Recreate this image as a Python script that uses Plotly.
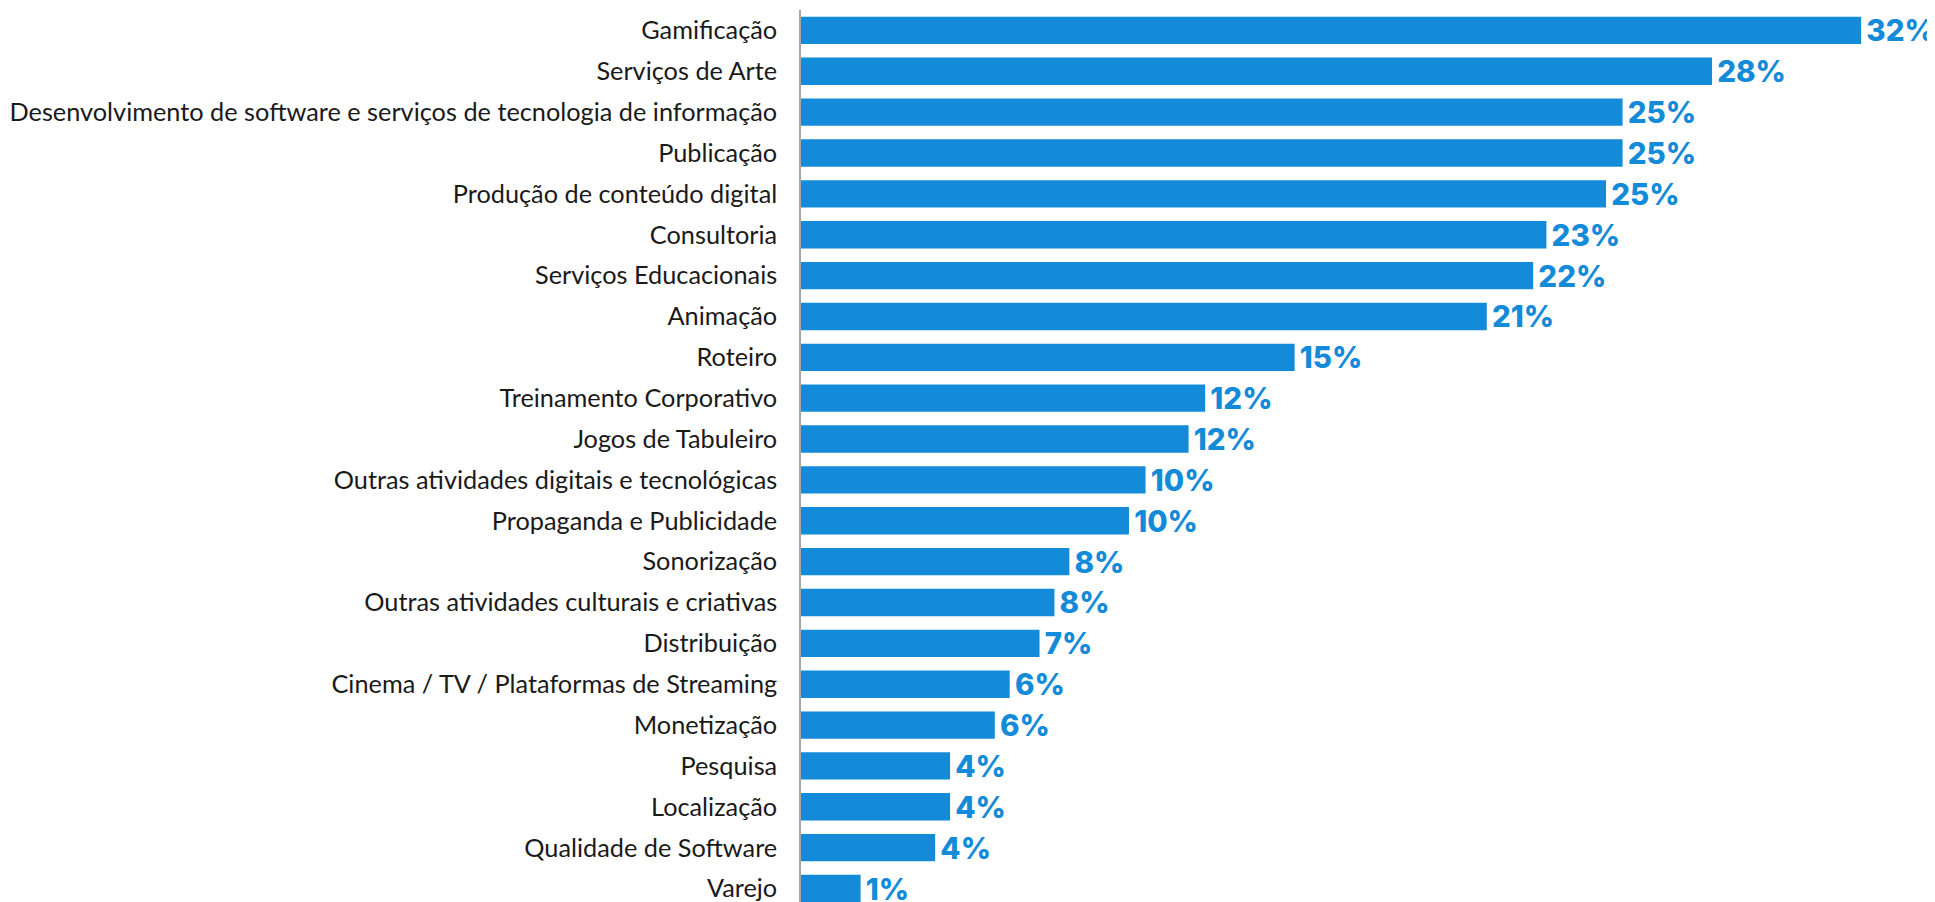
import plotly.graph_objects as go

categories = [
    "Gamificação",
    "Serviços de Arte",
    "Desenvolvimento de software e serviços de tecnologia de informação",
    "Publicação",
    "Produção de conteúdo digital",
    "Consultoria",
    "Serviços Educacionais",
    "Animação",
    "Roteiro",
    "Treinamento Corporativo",
    "Jogos de Tabuleiro",
    "Outras atividades digitais e tecnológicas",
    "Propaganda e Publicidade",
    "Sonorização",
    "Outras atividades culturais e criativas",
    "Distribuição",
    "Cinema / TV / Plataformas de Streaming",
    "Monetização",
    "Pesquisa",
    "Localização",
    "Qualidade de Software",
    "Varejo",
]
values = [32.0, 27.5, 24.8, 24.8, 24.3, 22.5, 22.1, 20.7, 14.9, 12.2, 11.7,
          10.4, 9.9, 8.1, 7.65, 7.2, 6.3, 5.85, 4.5, 4.5, 4.05, 1.8]
labels = ["32%", "28%", "25%", "25%", "25%", "23%", "22%", "21%", "15%", "12%", "12%",
          "10%", "10%", "8%", "8%", "7%", "6%", "6%", "4%", "4%", "4%", "1%"]

blue = "#138bd8"

fig = go.Figure(go.Bar(
    x=values,
    y=categories,
    orientation="h",
    text=["\u200a" + t for t in labels],
    textposition="outside",
    constraintext="none",
    cliponaxis=False,
    textfont=dict(family="Inter", size=29.5, color=blue, weight=800),
    marker=dict(color=blue, line=dict(width=0)),
    hoverinfo="skip",
))

fig.update_layout(
    width=1927,
    height=894,
    margin=dict(l=793, r=0, t=2, b=0, autoexpand=False),
    paper_bgcolor="white",
    plot_bgcolor="white",
    bargap=0.33,
    showlegend=False,
    xaxis=dict(range=[0, 34.23], visible=False, fixedrange=True),
    yaxis=dict(
        type="category",
        categoryorder="array",
        categoryarray=categories,
        range=[21.33, -0.5],
        showline=True,
        linecolor="#a6a6a6",
        linewidth=1.5,
        showgrid=False,
        ticks="",
        automargin=False,
        ticklabelstandoff=17,
        tickfont=dict(family="Lato", size=25.3, color="#1a1a1a"),
    ),
)

fig.write_html("out.html")
